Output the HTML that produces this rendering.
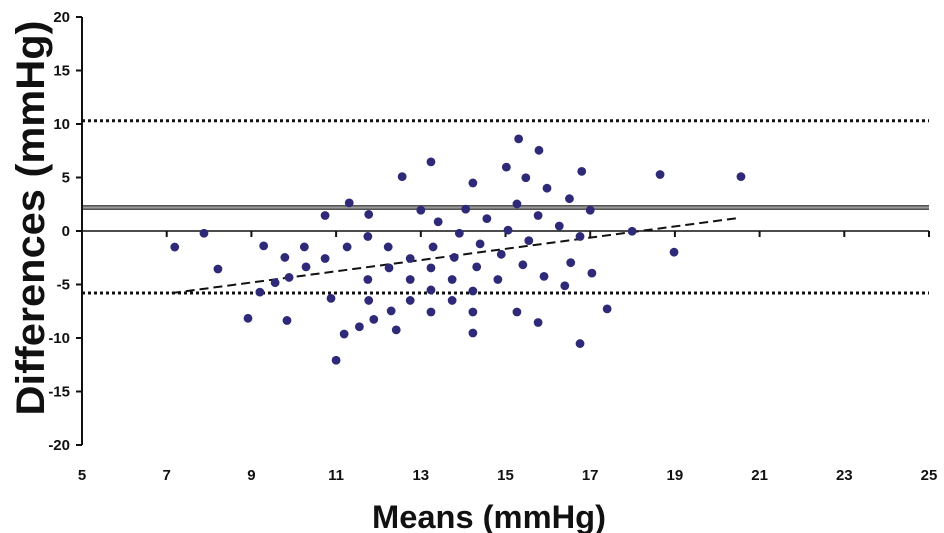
<!DOCTYPE html>
<html><head><meta charset="utf-8">
<style>
html,body{margin:0;padding:0;background:#fff;}
svg{display:block;font-family:"Liberation Sans",Arial,sans-serif;}
.tick{font-size:15px;font-weight:bold;fill:#111;}
</style></head>
<body>
<svg id="chart" width="944" height="533" viewBox="0 0 944 533" xmlns="http://www.w3.org/2000/svg">
<g id="grid"></g>
<text transform="translate(44,218) rotate(-90)" text-anchor="middle" font-size="40" font-weight="bold" fill="#111" textLength="395" lengthAdjust="spacingAndGlyphs">Differences (mmHg)</text>
<text x="489" y="528" text-anchor="middle" font-size="32" font-weight="bold" fill="#111" textLength="234" lengthAdjust="spacingAndGlyphs">Means (mmHg)</text>
</svg>
<script>
const xTicks=[5,7,9,11,13,15,17,19,21,23,25];
const yTicks=[20,15,10,5,0,-5,-10,-15,-20];
const meanX=[7.19,7.88,8.21,8.92,9.29,9.20,9.56,9.79,9.84,9.89,10.25,10.29,10.74,10.74,10.88,11.0,11.19,11.26,11.31,11.55,11.75,11.77,11.75,11.77,11.89,12.23,12.25,12.3,12.42,12.56,12.75,12.75,12.75,13.0,13.24,13.29,13.24,13.24,13.24,13.41,13.74,13.74,13.79,13.91,14.06,14.23,14.23,14.23,14.23,14.32,14.4,14.56,14.82,14.9,15.02,15.06,15.27,15.27,15.31,15.41,15.48,15.55,15.77,15.77,15.79,15.91,15.98,16.27,16.4,16.51,16.54,16.76,16.76,16.8,17.0,17.04,17.4,17.99,18.65,18.98,20.56];
const diffY=[-1.5,-0.21,-3.55,-8.16,-1.39,-5.71,-4.83,-2.47,-8.36,-4.34,-1.49,-3.35,1.45,-2.57,-6.30,-12.08,-9.63,-1.49,2.63,-8.95,-0.51,1.55,-4.53,-6.49,-8.26,-1.49,-3.45,-7.47,-9.24,5.08,-2.57,-4.53,-6.49,1.94,6.46,-1.49,-3.45,-5.51,-7.57,0.86,-4.53,-6.49,-2.47,-0.21,2.04,4.49,-5.61,-7.57,-9.53,-3.35,-1.20,1.16,-4.53,-2.18,5.97,0.08,2.53,-7.57,8.61,-3.16,4.98,-0.90,1.45,-8.55,7.54,-4.24,4.0,0.47,-5.12,3.02,-2.96,-0.51,-10.52,5.57,1.94,-3.94,-7.28,-0.02,5.28,-1.98,5.08];
const meanDiff=2.2, upperLoA=10.3, lowerLoA=-5.8;
const regX=[7.12,20.47], regY=[-5.8,1.2];

const NS="http://www.w3.org/2000/svg";
const g=document.getElementById('grid');
const X0=82,X1=929,Y0=17,Y1=445;
const sx=v=>X0+(v-5)/20*(X1-X0);
const sy=v=>Y0+(20-v)/40*(Y1-Y0);
function mk(t,a){const e=document.createElementNS(NS,t);for(const k in a)e.setAttribute(k,a[k]);g.appendChild(e);return e;}

let e=mk('line',{x1:X0,x2:X1,y1:sy(upperLoA),y2:sy(upperLoA),stroke:'#111','stroke-width':3,'stroke-dasharray':'3,3'});


e=mk('line',{x1:X0,x2:X1,y1:sy(lowerLoA),y2:sy(lowerLoA),stroke:'#111','stroke-width':3,'stroke-dasharray':'3,3'});


e=mk('line',{x1:X0,x2:X1,y1:sy(meanDiff),y2:sy(meanDiff),stroke:'#555','stroke-width':5});


e=mk('line',{x1:X0,x2:X1,y1:sy(meanDiff),y2:sy(meanDiff),stroke:'#999','stroke-width':2});



e=mk('line',{x1:X0,x2:X0,y1:Y0,y2:Y1,stroke:'#111','stroke-width':2});


e=mk('line',{x1:X0,x2:X1,y1:sy(0),y2:sy(0),stroke:'#111','stroke-width':1.5});


yTicks.forEach(v=>{
  const t=mk('line',{x1:X0-6,x2:X0,y1:sy(v),y2:sy(v),stroke:'#111','stroke-width':2});
  
  
  const l=mk('text',{x:X0-12,y:sy(v)+5,'text-anchor':'end',class:'tick'});l.textContent=v;
  
  
});
xTicks.forEach(v=>{
  const t=mk('line',{x1:sx(v),x2:sx(v),y1:sy(0),y2:sy(0)+6,stroke:'#111','stroke-width':2});
  
  
  const l=mk('text',{x:sx(v),y:480,'text-anchor':'middle',class:'tick'});l.textContent=v;
  
  
});

e=mk('line',{x1:sx(regX[0]),x2:sx(regX[1]),y1:sy(regY[0]),y2:sy(regY[1]),stroke:'#111','stroke-width':2,'stroke-dasharray':'9,5'});



meanX.forEach((x,i)=>{
  const c=mk('circle',{cx:sx(x),cy:sy(diffY[i]),r:4.4,fill:'#2e2a78'});
  
  
});
</script>
</body></html>
